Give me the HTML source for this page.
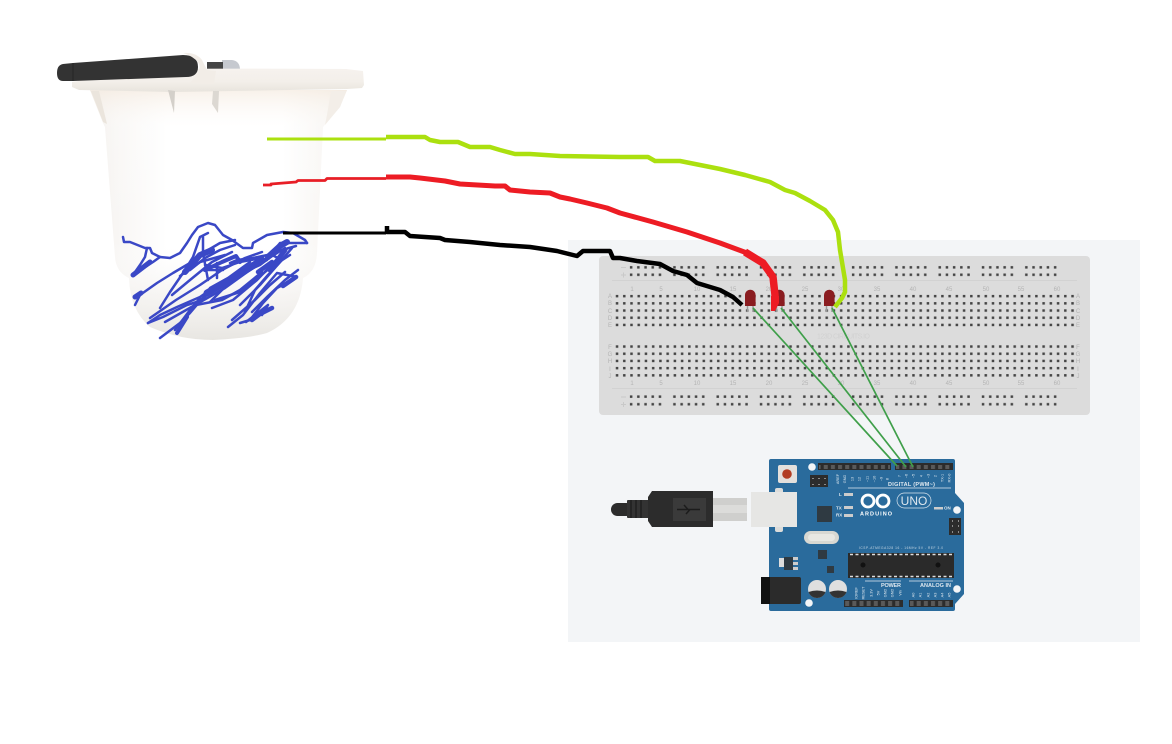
<!DOCTYPE html>
<html><head><meta charset="utf-8"><style>
html,body{margin:0;padding:0;background:#fff}
svg{display:block}
text{font-family:"Liberation Sans",sans-serif}
.bb{font-size:6px;fill:#b4b4b4}
.w{font-size:4.500px;fill:#dfe8ef;font-weight:bold}
</style></head><body>
<svg width="1172" height="744" viewBox="0 0 1172 744" xmlns="http://www.w3.org/2000/svg">
<defs>
<pattern id="d" x="613.300" y="292.500" width="7.230" height="7.200" patternUnits="userSpaceOnUse"><rect x="2.500" y="2.400" width="2.500" height="2.500" fill="#444"/></pattern>
<pattern id="r" x="627.500" y="263.500" width="43.300" height="7.400" patternUnits="userSpaceOnUse"><g fill="#444"><rect x="2.400" y="2.600" width="2.500" height="2.500"/><rect x="9.600" y="2.600" width="2.500" height="2.500"/><rect x="16.800" y="2.600" width="2.500" height="2.500"/><rect x="24" y="2.600" width="2.500" height="2.500"/><rect x="31.200" y="2.600" width="2.500" height="2.500"/></g></pattern>
<pattern id="r2" x="849.500" y="263.500" width="43.300" height="7.400" patternUnits="userSpaceOnUse"><g fill="#444"><rect x="2.400" y="2.600" width="2.500" height="2.500"/><rect x="9.600" y="2.600" width="2.500" height="2.500"/><rect x="16.800" y="2.600" width="2.500" height="2.500"/><rect x="24" y="2.600" width="2.500" height="2.500"/><rect x="31.200" y="2.600" width="2.500" height="2.500"/></g></pattern>
<pattern id="r3" x="627.500" y="392.800" width="43.300" height="7.600" patternUnits="userSpaceOnUse"><g fill="#444"><rect x="2.400" y="2.600" width="2.500" height="2.500"/><rect x="9.600" y="2.600" width="2.500" height="2.500"/><rect x="16.800" y="2.600" width="2.500" height="2.500"/><rect x="24" y="2.600" width="2.500" height="2.500"/><rect x="31.200" y="2.600" width="2.500" height="2.500"/></g></pattern>
<pattern id="r4" x="849.500" y="392.800" width="43.300" height="7.600" patternUnits="userSpaceOnUse"><g fill="#444"><rect x="2.400" y="2.600" width="2.500" height="2.500"/><rect x="9.600" y="2.600" width="2.500" height="2.500"/><rect x="16.800" y="2.600" width="2.500" height="2.500"/><rect x="24" y="2.600" width="2.500" height="2.500"/><rect x="31.200" y="2.600" width="2.500" height="2.500"/></g></pattern>
<pattern id="h" x="0" y="0" width="7.150" height="8" patternUnits="userSpaceOnUse"><rect x="1.500" y="1" width="4" height="5" fill="#5a5a5a"/></pattern>
<linearGradient id="bk" x1="0" x2="1" y1="0" y2="0"><stop offset="0" stop-color="#f1eeea"/><stop offset=".1" stop-color="#f8f6f4"/><stop offset=".3" stop-color="#fff"/><stop offset=".75" stop-color="#fff"/><stop offset=".92" stop-color="#f8f6f3"/><stop offset="1" stop-color="#efebe7"/></linearGradient>
<linearGradient id="bv" x1="0" x2="0" y1="0" y2="1"><stop offset="0" stop-color="#f5ebe0" stop-opacity=".7"/><stop offset=".15" stop-color="#fff" stop-opacity=".2"/><stop offset=".6" stop-color="#fff" stop-opacity="0"/><stop offset=".82" stop-color="#f3f1ee" stop-opacity=".7"/><stop offset="1" stop-color="#e8e6e2" stop-opacity="1"/></linearGradient>
<linearGradient id="rm" x1="0" x2="0" y1="0" y2="1"><stop offset="0" stop-color="#f6f2ee"/><stop offset=".55" stop-color="#f3efea"/><stop offset="1" stop-color="#e8e4dd"/></linearGradient>
</defs>

<!-- bucket -->
<path d="M222 60H232Q240 61 240 70H222Z" fill="#c6c9cf"/>
<rect x="207" y="62" width="16" height="7" fill="#454545"/>
<path d="M90 90L103 123L105 127L115 257Q116 272 129 278Q130 310 150 327Q180 340 213 340Q250 338 267 333Q300 318 303 278Q316 272 317 253L323 127L340 107L347 90Z" fill="url(#bk)"/>
<path d="M90 90L103 123L105 127L115 257Q116 272 129 278Q130 310 150 327Q180 340 213 340Q250 338 267 333Q300 318 303 278Q316 272 317 253L323 127L340 107L347 90Z" fill="url(#bv)"/>
<path d="M91 91L103 122L107 124L99 91Z" fill="#ebe5dd"/>
<path d="M331 91L327 115L325 125L340 107L346 91Z" fill="#f3eee8"/>
<path d="M78 81L80 70Q200 68 346 69L363 71L364 85L362 88L347 89L173 92L79 90L72 87L72 82Z" fill="url(#rm)"/>
<path d="M168 90L174 113L175 91Z" fill="#d4d0ca"/>
<path d="M213 91L212 104L218 113L219 91Z" fill="#dcd8d2"/>
<path d="M63 64L73 63L183 55Q198 55 198 67Q198 77 186 77L73 81L63 81Q57 81 57 73Q57 65 63 64Z" fill="#333"/>
<path d="M73 63L73 81" stroke="#262626" stroke-width="1"/>
<path d="M183 53Q196 52 202 60L207 70L216 71L214 84L190 83L196 76Q203 66 196 60Q190 55 183 53Z" fill="#f2ede7"/>

<!-- panel and breadboard -->
<rect x="568" y="240" width="572" height="402" fill="#f3f5f7"/>
<rect x="599" y="256" width="491" height="159" rx="4" fill="#dcdcdc"/>
<path d="M612 280.500H1077M612 388.500H1077" stroke="#d2d2d2"/>
<rect x="627.500" y="263.500" width="215" height="14.500" fill="url(#r)"/>
<rect x="849.500" y="263.500" width="215" height="14.500" fill="url(#r2)"/>
<rect x="627.500" y="392.800" width="215" height="15" fill="url(#r3)"/>
<rect x="849.500" y="392.800" width="215" height="15" fill="url(#r4)"/>
<rect x="613.300" y="292.500" width="462" height="36" fill="url(#d)"/>
<rect x="613.300" y="343" width="462" height="36" fill="url(#d)"/>
<path d="M621 267.500h5M621 275h5M623.500 272.500v5M621 397h5M621 404.500h5M623.500 402v5" stroke="#c9c9c9"/>
<g class="bb" text-anchor="middle">
<text x="632" y="291">1</text><text x="661" y="291">5</text><text x="697" y="291">10</text><text x="733" y="291">15</text><text x="769" y="291">20</text><text x="805" y="291">25</text><text x="841" y="291">30</text><text x="877" y="291">35</text><text x="913" y="291">40</text><text x="949" y="291">45</text><text x="986" y="291">50</text><text x="1021" y="291">55</text><text x="1057" y="291">60</text>
<text x="632" y="385">1</text><text x="661" y="385">5</text><text x="697" y="385">10</text><text x="733" y="385">15</text><text x="769" y="385">20</text><text x="805" y="385">25</text><text x="841" y="385">30</text><text x="877" y="385">35</text><text x="913" y="385">40</text><text x="949" y="385">45</text><text x="986" y="385">50</text><text x="1021" y="385">55</text><text x="1057" y="385">60</text>
<text x="610" y="298">A</text><text x="610" y="305">B</text><text x="610" y="313">C</text><text x="610" y="320">D</text><text x="610" y="327">E</text><text x="610" y="349">F</text><text x="610" y="356">G</text><text x="610" y="363">H</text><text x="610" y="371">I</text><text x="610" y="378">J</text>
<text x="1078" y="298">A</text><text x="1078" y="305">B</text><text x="1078" y="313">C</text><text x="1078" y="320">D</text><text x="1078" y="327">E</text><text x="1078" y="349">F</text><text x="1078" y="356">G</text><text x="1078" y="363">H</text><text x="1078" y="371">I</text><text x="1078" y="378">J</text>
</g>
<text x="817" y="338.500" font-size="7" fill="#d1d1d1" textLength="53">123D CIRCUITS.IO</text>

<!-- LEDs -->
<g fill="#8a1c20"><path d="M745 306V295a5.300 5.300 0 0 1 10.600 0V306Z"/><path d="M774 306V295a5.300 5.300 0 0 1 10.600 0V306Z"/><path d="M824 306V295a5.300 5.300 0 0 1 10.600 0V306Z"/></g>
<path d="M747.500 306v6M753 306v6M776.500 306v6M782 306v6M826.500 306v6M832 306v6" stroke="#999" stroke-width="1.500"/>

<!-- arduino -->
<path d="M771 459H953Q955 459 955 461V493L964 503V594L955 604V609Q955 611 953 611H771Q769 611 769 609V461Q769 459 771 459Z" fill="#2a6b9c"/>
<rect x="778" y="465" width="19" height="18" rx="2" fill="#e4e0dc"/><circle cx="787" cy="474" r="4.800" fill="#b23d23"/>
<circle cx="812" cy="467" r="3.800" fill="#f3f5f7"/><circle cx="957" cy="510" r="3.800" fill="#f3f5f7"/><circle cx="957" cy="589" r="3.800" fill="#f3f5f7"/><circle cx="809" cy="603" r="3.800" fill="#f3f5f7"/>
<rect x="818" y="463" width="73" height="7" fill="#2c2c2c"/><rect x="895" y="463" width="58" height="7" fill="#2c2c2c"/>
<rect x="819" y="464" width="71" height="5" fill="url(#h)"/><rect x="896" y="464" width="56" height="5" fill="url(#h)"/>
<rect x="810" y="475" width="18" height="12" fill="#2c2c2c"/>
<path d="M813 478v1M819 478v1M825 478v1M813 484v1M819 484v1M825 484v1" stroke="#aaa" stroke-width="1.500"/>
<rect x="949" y="518" width="12" height="17" fill="#2c2c2c"/>
<path d="M952 521h1M958 521h1M952 526h1M958 526h1M952 532h1M958 532h1" stroke="#aaa" stroke-width="1.500"/>
<rect x="844" y="600" width="59" height="7" fill="#2c2c2c"/><rect x="909" y="600" width="44" height="7" fill="#2c2c2c"/>
<rect x="845" y="601" width="57" height="5" fill="url(#h)"/><rect x="910" y="601" width="42" height="5" fill="url(#h)"/>
<rect x="848" y="553" width="106" height="25" fill="#2a2a2a"/>
<path d="M850 554.500H952M850 576.500H952" stroke="#ddd" stroke-width="1.500" stroke-dasharray="3 2.500"/>
<circle cx="863" cy="565" r="2.500" fill="#111"/><circle cx="938" cy="565" r="2.500" fill="#111"/>
<rect x="817" y="506" width="15" height="16" fill="#2f3a42"/>
<rect x="804" y="531" width="35" height="13" rx="6.500" fill="#d8d8d2"/><rect x="808" y="534" width="27" height="7" rx="3.500" fill="#e8e8e3"/>
<rect x="818" y="550" width="9" height="9" fill="#2f3a42"/><rect x="827" y="566" width="7" height="7" fill="#2f3a42"/>
<rect x="784" y="557" width="9" height="13" fill="#2f3a42"/><rect x="779" y="558" width="5" height="9" fill="#ddd"/>
<path d="M793 557h5v3h-5zM793 562h5v3h-5zM793 567h5v3h-5z" fill="#ccc"/>
<path d="M848 488H951M865 581H901M909 581H953" stroke="#dfe8ef" stroke-width=".7" fill="none"/>
<rect x="761" y="577" width="40" height="27" rx="2" fill="#2b2b2b"/><rect x="761" y="577" width="9" height="27" fill="#111"/>
<circle cx="817" cy="589" r="9" fill="#dfdfdf"/><path d="M808.500 592a9 9 0 0 0 17 0Q817 589 808.500 592Z" fill="#333"/>
<circle cx="838" cy="589" r="9" fill="#dfdfdf"/><path d="M829.500 592a9 9 0 0 0 17 0Q838 589 829.500 592Z" fill="#333"/>
<rect x="844" y="493" width="9" height="3" fill="#ccc"/><rect x="844" y="506" width="9" height="3" fill="#ccc"/><rect x="844" y="514" width="9" height="3" fill="#ccc"/><rect x="934" y="507" width="9" height="2.500" fill="#ccc"/>
<g fill="none" stroke="#fff" stroke-width="2.800"><circle cx="868" cy="501" r="6"/><circle cx="883" cy="501" r="6"/></g>
<rect x="897" y="493" width="34" height="15" rx="7.500" fill="none" stroke="#dce6ee" stroke-width=".7"/>
<text x="914" y="505" font-size="12" fill="#dfe8ef" text-anchor="middle">UNO</text>
<text x="860" y="515.500" font-size="5.500" font-weight="bold" fill="#fff" textLength="32">ARDUINO</text>
<text x="888" y="486" font-size="5.500" font-weight="bold" fill="#dfe8ef" textLength="47">DIGITAL (PWM~)</text>
<text x="881" y="587" font-size="5.500" font-weight="bold" fill="#dfe8ef" textLength="20">POWER</text>
<text x="920" y="587" font-size="5.500" font-weight="bold" fill="#dfe8ef" textLength="31">ANALOG IN</text>
<text x="859" y="549" font-size="3.200" fill="#c6d6e3" textLength="84">ICSP-ATMEGA328 16 - 16MHz 5V - REF 3.0</text>
<text x="839" y="496" class="w">L</text><text x="836" y="509.500" class="w">TX</text><text x="836" y="516.500" class="w">RX</text><text x="944" y="509.500" class="w">ON</text>
<g class="w" style="font-size:3.800px;font-weight:normal" text-anchor="middle">
<text transform="translate(839,479) rotate(-90)">AREF</text><text transform="translate(846,479) rotate(-90)">GND</text><text transform="translate(853.500,479) rotate(-90)">13</text><text transform="translate(860.500,479) rotate(-90)">12</text><text transform="translate(868.500,479) rotate(-90)">~11</text><text transform="translate(875.500,479) rotate(-90)">~10</text><text transform="translate(882.500,479) rotate(-90)">~9</text><text transform="translate(888.500,479) rotate(-90)">8</text>
<text transform="translate(900.500,476) rotate(-90)">7</text><text transform="translate(907.500,476) rotate(-90)">~6</text><text transform="translate(914.500,476) rotate(-90)">~5</text><text transform="translate(922.500,476) rotate(-90)">4</text><text transform="translate(929.500,476) rotate(-90)">~3</text><text transform="translate(936.500,476) rotate(-90)">2</text><text transform="translate(943.500,478) rotate(-90)">TX-1</text><text transform="translate(950.500,478) rotate(-90)">RX-0</text>
<text transform="translate(857.500,593) rotate(-90)">IOREF</text><text transform="translate(864.500,593) rotate(-90)">RESET</text><text transform="translate(872.500,593) rotate(-90)">3.3V</text><text transform="translate(879.500,593) rotate(-90)">5V</text><text transform="translate(886.500,593) rotate(-90)">GND</text><text transform="translate(893.500,593) rotate(-90)">GND</text><text transform="translate(901.500,593) rotate(-90)">Vin</text>
<text transform="translate(914.500,595) rotate(-90)">A0</text><text transform="translate(921.500,595) rotate(-90)">A1</text><text transform="translate(929.500,595) rotate(-90)">A2</text><text transform="translate(936.500,595) rotate(-90)">A3</text><text transform="translate(943.500,595) rotate(-90)">A4</text><text transform="translate(950.500,595) rotate(-90)">A5</text>
</g>

<!-- jumper wires -->
<g stroke="#3f9f4a" stroke-width="1.700" fill="none"><path d="M753 308L897 466"/><path d="M781 308L906 467"/><path d="M832 308L913 467"/></g>

<!-- usb -->
<rect x="775" y="488" width="8" height="44" rx="2" fill="#dcdcda"/>
<rect x="751" y="492" width="46" height="35" fill="#e6e6e4"/>
<rect x="713" y="498" width="34" height="23" fill="#cfcfcd"/>
<rect x="713" y="505" width="34" height="8" fill="#dcdcda"/>
<rect x="611" y="503" width="22" height="13" rx="6.500" fill="#2c2c2c"/>
<rect x="627" y="500" width="22" height="18" rx="1" fill="#333"/>
<path d="M648 497L652 491H713V527H652L648 521Z" fill="#2c2c2c"/>
<rect x="673" y="498" width="33" height="23" fill="#3a3a3a"/>
<path d="M677 509.500H700M684 505L688 509.500M686 514L690 509.500" stroke="#1c1c1c" stroke-width="1.500" fill="none"/>
<path d="M631 500v18M636 500v18M641 500v18" stroke="#161616"/>

<!-- blue scribble -->
<g fill="none" stroke="#3a48c6" stroke-width="2.500" stroke-linejoin="round" stroke-linecap="round">
<path d="M123 237L124 242H130L140 246L145 248H150L152 253L160 257L170 258L180 253L187 243L192 235L198 227L208 223L215 225L223 235L232 240L243 248H252L253 243L267 235L283 232L293 233L305 240L307 243"/>
<path d="M147 248L145 257L140 265L133 275L153 262L160 257"/>
<path d="M135 305L140 295L157 283L173 273L190 263L203 253L220 243L235 240"/>
<path d="M148 323L160 315L177 307L200 297L220 283L243 273L267 260L280 243L307 243"/>
<path d="M160 338L180 323L190 313L207 293L233 277L260 265L277 252"/>
<path d="M148 323L163 317L187 305L203 300L210 288L228 278L250 262"/>
<path d="M160 308L170 292L183 273L193 257L200 237L208 233"/>
<path d="M228 327L243 315L260 293L277 273L297 277L277 288L263 303L250 320L240 323"/>
<path d="M212 308L233 300L257 280L283 253"/>
<path d="M203 237V253L208 280M203 270H223M217 263V278"/>
<path d="M230 263L237 260L253 258L277 253"/>
<path d="M210 302L227 285L250 268L272 255L282 260L268 275L255 290L245 312"/>
<path d="M172 295L190 280L212 262L232 252"/>
<path d="M196 305L222 300L240 290L262 272"/>
<path d="M150 318L176 300L200 285L222 270L245 258L262 252"/>
<path d="M165 322L195 305L225 288L250 270L275 252L296 246"/>
<path d="M175 330L190 310L200 298"/>
<path d="M200 300L222 285L250 270L285 248"/>
<path d="M190 270L205 258L220 250L235 245"/>
<path d="M180 276L200 262L225 255"/>
<path d="M205 265L222 268L240 262L262 258"/>
<path d="M215 300L240 292L270 268L290 255"/>
<path d="M232 320L255 300L270 285L285 272"/>
<path d="M252 312L268 296L285 280L298 270"/>
<path d="M240 305L260 285L280 262L292 248"/>
<path d="M246 322L268 305L262 315"/>
<path d="M133 275L150 262" stroke-width="5"/>
<path d="M135 297L141 293" stroke-width="5"/>
<path d="M207 293L235 277L262 260" stroke-width="7"/>
<path d="M185 272L200 255L212 250" stroke-width="6"/>
<path d="M268 257L280 246L287 242" stroke-width="6"/>
<path d="M270 270L285 250" stroke-width="5"/>
<path d="M225 283L250 268" stroke-width="5"/>
<path d="M258 272L272 262" stroke-width="4.500"/>
<path d="M283 286L296 277" stroke-width="4.500"/>
<path d="M252 320L260 314L272 308" stroke-width="4.500"/>
<path d="M177 333L187 317" stroke-width="4"/>
<path d="M205 270L222 262L236 256L240 262" stroke-width="4"/>
</g>

<!-- sensor wires -->
<g fill="none" stroke-linejoin="round">
<path d="M267 139H386" stroke="#abe00f" stroke-width="3"/>
<path d="M386 137H425L430 140L440 142H458L470 147H490L500 150L515 154H530L560 156L620 157H648L655 161H680L700 165L720 169L745 175L770 182L785 190L795 193L810 201L825 210L833 220L838 232L840 250L843 268L845 280V292L842 298L835 307" stroke="#abe00f" stroke-width="4.500"/>
<path d="M263 185H271V184L296 182L298 180.500H325L327 178.500H386" stroke="#e81e26" stroke-width="2.800"/>
<path d="M386 177H410L420 178L445 181L460 184L495 186H505L510 190L530 192L550 193L560 197L570 199L587 203L607 208L620 213L653 222L687 232L720 243L747 253" stroke="#ed1c24" stroke-width="5"/>
<path d="M745 252L763 263L773 277L775 295L775 300" stroke="#ed1c24" stroke-width="7.500"/>
<path d="M771 296H779L779 303L775 311L771 311Z" fill="#ed1c24"/>
<path d="M283 233H386" stroke="#000" stroke-width="3"/>
<path d="M387 226V232H405L410 236L440 238L445 240L470 242L500 245L530 247L557 251L577 256L583 251H610L613 258H620L637 261L660 264L673 271L687 275L697 283L720 290L733 297L742 305" stroke="#000" stroke-width="4.500"/>
</g>
</svg>
</body></html>
